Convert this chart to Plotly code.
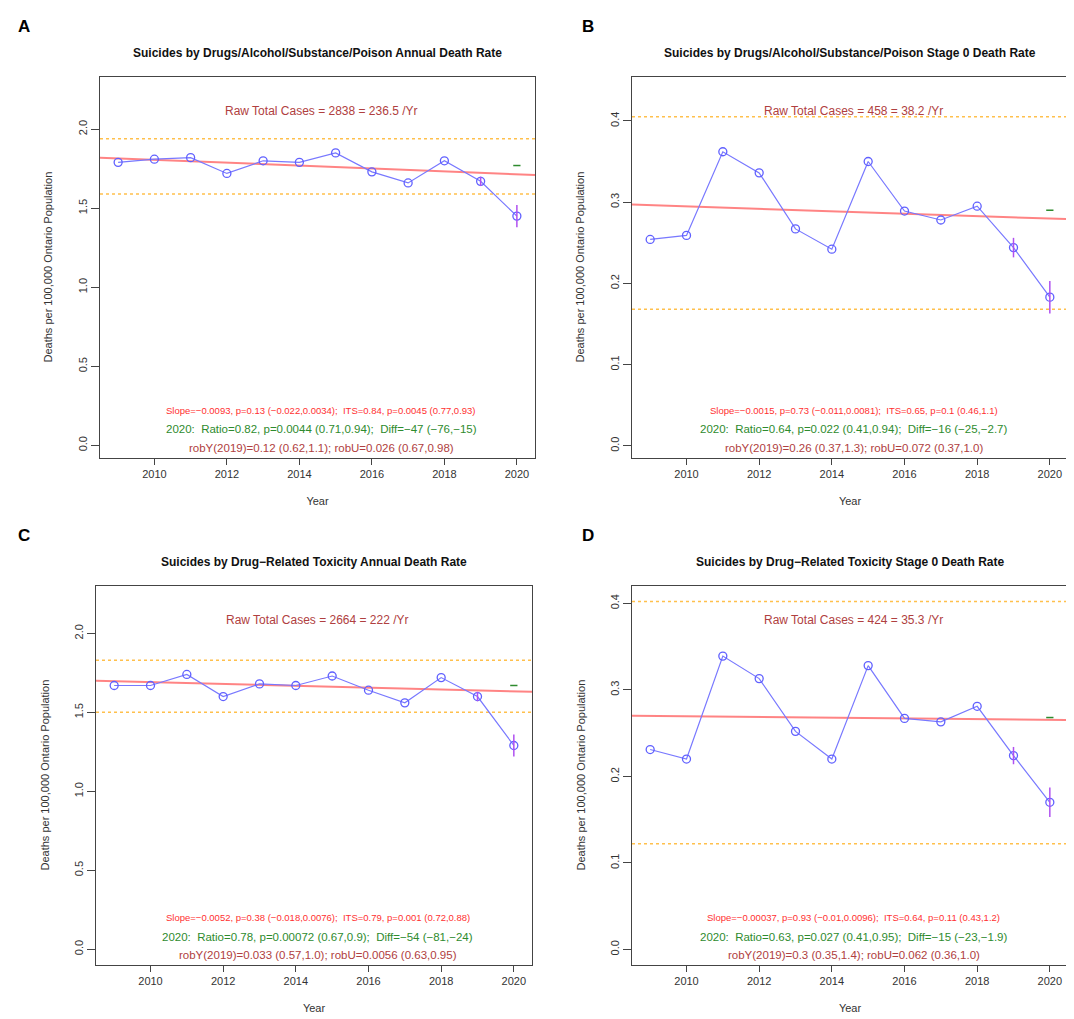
import plotly.graph_objects as go

years = list(range(2009, 2021))

rate_a = [1.79, 1.81, 1.82, 1.72, 1.80, 1.79, 1.85, 1.73, 1.66, 1.80, 1.67, 1.45]
rate_b = [0.254, 0.259, 0.362, 0.336, 0.267, 0.242, 0.350, 0.289, 0.278, 0.295, 0.244, 0.183]
rate_c = [1.67, 1.67, 1.74, 1.60, 1.68, 1.67, 1.73, 1.64, 1.56, 1.72, 1.60, 1.29]
rate_d = [0.231, 0.220, 0.339, 0.313, 0.252, 0.220, 0.328, 0.267, 0.263, 0.281, 0.224, 0.170]

# trend line ends (at 2008.5 and 2020.5), orange bands, green predicted tick
trend = {"A": (1.82, 1.71), "B": (0.297, 0.279), "C": (1.70, 1.63), "D": (0.270, 0.265)}
bands = {"A": (1.94, 1.59), "B": (0.405, 0.168), "C": (1.83, 1.50), "D": (0.402, 0.122)}
pred2020 = {"A": 1.77, "B": 0.290, "C": 1.67, "D": 0.268}
err = {"A": (0.03, 0.07), "B": (0.012, 0.02), "C": (0.03, 0.07), "D": (0.01, 0.017)}

titles = {
    "A": "Suicides by Drugs/Alcohol/Substance/Poison Annual Death Rate",
    "B": "Suicides by Drugs/Alcohol/Substance/Poison Stage 0 Death Rate",
    "C": "Suicides by Drug\u2212Related Toxicity Annual Death Rate",
    "D": "Suicides by Drug\u2212Related Toxicity Stage 0 Death Rate",
}
raw_text = {"A": "Raw Total Cases = 2838 = 236.5 /Yr", "B": "Raw Total Cases = 458 = 38.2 /Yr",
            "C": "Raw Total Cases = 2664 = 222 /Yr", "D": "Raw Total Cases = 424 = 35.3 /Yr"}
slope_text = {
    "A": "Slope=\u22120.0093, p=0.13 (\u22120.022,0.0034);  ITS=0.84, p=0.0045 (0.77,0.93)",
    "B": "Slope=\u22120.0015, p=0.73 (\u22120.011,0.0081);  ITS=0.65, p=0.1 (0.46,1.1)",
    "C": "Slope=\u22120.0052, p=0.38 (\u22120.018,0.0076);  ITS=0.79, p=0.001 (0.72,0.88)",
    "D": "Slope=\u22120.00037, p=0.93 (\u22120.01,0.0096);  ITS=0.64, p=0.11 (0.43,1.2)",
}
ratio_text = {
    "A": "2020:  Ratio=0.82, p=0.0044 (0.71,0.94);  Diff=\u221247 (\u221276,\u221215)",
    "B": "2020:  Ratio=0.64, p=0.022 (0.41,0.94);  Diff=\u221216 (\u221225,\u22122.7)",
    "C": "2020:  Ratio=0.78, p=0.00072 (0.67,0.9);  Diff=\u221254 (\u221281,\u221224)",
    "D": "2020:  Ratio=0.63, p=0.027 (0.41,0.95);  Diff=\u221215 (\u221223,\u22121.9)",
}
rob_text = {
    "A": "robY(2019)=0.12 (0.62,1.1); robU=0.026 (0.67,0.98)",
    "B": "robY(2019)=0.26 (0.37,1.3); robU=0.072 (0.37,1.0)",
    "C": "robY(2019)=0.033 (0.57,1.0); robU=0.0056 (0.63,0.95)",
    "D": "robY(2019)=0.3 (0.35,1.4); robU=0.062 (0.36,1.0)",
}

W, H = 1074, 1019
panels = {
    "A": dict(data=rate_a, x=(92, 527), y=(69, 450), yr=(-0.08, 2.33), dt=[0, 0.5, 1.0, 1.5, 2.0], yt=40),
    "B": dict(data=rate_b, x=(624, 1060), y=(69, 450), yr=(-0.015, 0.454), dt=[0, 0.1, 0.2, 0.3, 0.4], yt=572),
    "C": dict(data=rate_c, x=(88, 524), y=(578, 957), yr=(-0.10, 2.30), dt=[0, 0.5, 1.0, 1.5, 2.0], yt=36),
    "D": dict(data=rate_d, x=(624, 1060), y=(578, 957), yr=(-0.018, 0.42), dt=[0, 0.1, 0.2, 0.3, 0.4], yt=572),
}

fig = go.Figure()
font = "Liberation Sans, Arial"
for i, (key, p) in enumerate(panels.items()):
    n = "" if i == 0 else str(i + 1)
    xa, ya = "x" + n, "y" + n
    vals = p["data"]
    span = p["yr"][1] - p["yr"][0]
    # orange bands
    for b in bands[key]:
        fig.add_trace(go.Scatter(x=[2008.5, 2020.5], y=[b, b], mode="lines", xaxis=xa, yaxis=ya,
                                 line=dict(color="#FFC04C", width=1.5, dash="dot"), showlegend=False))
    fig.add_trace(go.Scatter(x=[2008.5, 2020.5], y=list(trend[key]), mode="lines", xaxis=xa, yaxis=ya,
                             line=dict(color="rgba(255,80,80,0.7)", width=2), showlegend=False))
    fig.add_trace(go.Scatter(x=years, y=vals, mode="lines+markers", xaxis=xa, yaxis=ya,
                             line=dict(color="#7878FF", width=1.2),
                             marker=dict(symbol="circle-open", size=8, color="#6060FF", line=dict(width=1.3)),
                             showlegend=False))
    fig.add_trace(go.Scatter(x=[2019, 2020], y=vals[-2:], mode="markers", xaxis=xa, yaxis=ya,
                             marker=dict(size=0.1, color="#B050F0"),
                             error_y=dict(type="data", array=list(err[key]), color="#B050F0", width=0, thickness=1.5),
                             showlegend=False))
    fig.add_trace(go.Scatter(x=[2019.9, 2020.1], y=[pred2020[key]] * 2, mode="lines", xaxis=xa, yaxis=ya,
                             line=dict(color="#2E8B2E", width=1.5), showlegend=False))

    dx = [p["x"][0] / W, p["x"][1] / W]
    dy = [1 - p["y"][1] / H, 1 - p["y"][0] / H]
    fig.update_layout(**{
        ("xaxis" + n): dict(domain=dx, range=[2008.5, 2020.5], anchor=ya, tickvals=list(range(2010, 2021, 2)),
                            showgrid=False, zeroline=False, showline=True, mirror=True, linecolor="#444",
                            ticks="outside", ticklen=6, tickfont=dict(size=11, color="#333"),
                            title=dict(text="Year", font=dict(size=11, color="#333"), standoff=18)),
        ("yaxis" + n): dict(domain=dy, range=list(p["yr"]), anchor=xa, tickvals=p["dt"], tickformat=".1f",
                            showgrid=False, zeroline=False, showline=True, mirror=True, linecolor="#444",
                            ticks="outside", ticklen=8, tickangle=-90, tickfont=dict(size=11, color="#333")),
    })
    fig.add_annotation(x=p["yt"] / W, y=(dy[0] + dy[1]) / 2, xref="paper", yref="paper",
                       text="Deaths per 100,000 Ontario Population", textangle=-90, showarrow=False,
                       xanchor="center", yanchor="middle", font=dict(size=11, color="#333", family=font))
    xc = 2014.6
    top = p["yr"][1]
    fig.add_annotation(x=xc, y=top - 0.09 * span, xref=xa, yref=ya, text=raw_text[key], showarrow=False,
                       font=dict(size=12, color="#B04040", family=font))
    fig.add_annotation(x=xc, y=p["yr"][0] + 0.125 * span, xref=xa, yref=ya, text=slope_text[key], showarrow=False,
                       font=dict(size=9.5, color="#FF3030", family=font))
    fig.add_annotation(x=xc, y=p["yr"][0] + 0.075 * span, xref=xa, yref=ya, text=ratio_text[key], showarrow=False,
                       font=dict(size=11.5, color="#2E8B2E", family=font))
    fig.add_annotation(x=xc, y=p["yr"][0] + 0.026 * span, xref=xa, yref=ya, text=rob_text[key], showarrow=False,
                       font=dict(size=11.5, color="#B04040", family=font))
    # title and panel letter
    fig.add_annotation(x=(dx[0] + dx[1]) / 2, y=dy[1] + 24 / H, xref="paper", yref="paper",
                       text="<b>%s</b>" % titles[key], xanchor="center", yanchor="middle",
                       showarrow=False, font=dict(size=12, color="#111", family=font))
    lx = 8 / W if key in "AC" else 572 / W
    fig.add_annotation(x=lx, y=dy[1] + 51 / H, xref="paper", yref="paper", text="<b>%s</b>" % key,
                       xanchor="left", yanchor="middle",
                       showarrow=False, font=dict(size=17, color="#000", family=font))

fig.update_layout(width=W, height=H, margin=dict(l=0, r=0, t=0, b=0), plot_bgcolor="white",
                  paper_bgcolor="white", font=dict(family=font))
fig.write_html("out.html")
